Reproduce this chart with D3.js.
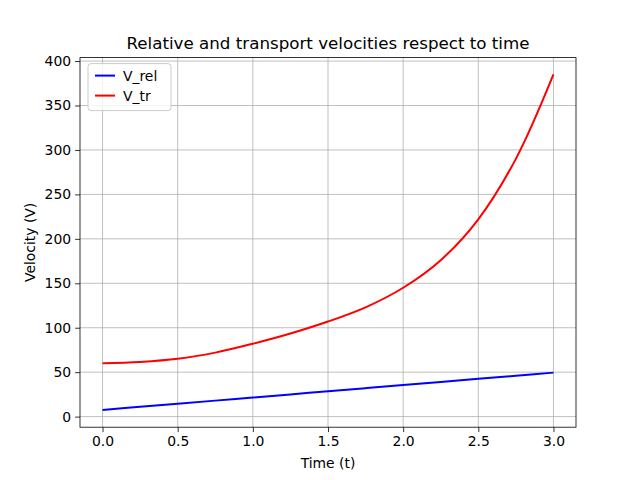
<!DOCTYPE html>
<html>
<head>
<meta charset="utf-8">
<script src="https://cdn.jsdelivr.net/npm/d3@7"></script>
<style>
  body { margin: 0; background: #fff; }
  text { font-family: "DejaVu Sans", sans-serif; }
</style>
</head>
<body>
<div id="chart"></div>
<script>
// data
const times = [0, 0.25, 0.5, 0.75, 1.0, 1.25, 1.5, 1.75, 2.0, 2.25, 2.5, 2.75, 3.0];
const vRel = [7.5, 11, 14.5, 18, 21.5, 25, 28.5, 32, 35.5, 39, 42.5, 46, 49.5];
const vTr = [60, 61.5, 65, 72, 82, 93.5, 107, 123, 145, 176, 222, 290, 385];
const xTicks = [0, 0.5, 1.0, 1.5, 2.0, 2.5, 3.0];
const yTicks = [0, 50, 100, 150, 200, 250, 300, 350, 400];

const width = 640, height = 480;
const margin = { top: 57.6, right: 64, bottom: 52.8, left: 80 };
const iw = width - margin.left - margin.right;
const ih = height - margin.top - margin.bottom;

const svg = d3.select("#chart").append("svg")
  .attr("width", width)
  .attr("height", height);

const g = svg.append("g").attr("transform", `translate(${margin.left},${margin.top})`);

const x = d3.scaleLinear().domain([-0.15, 3.15]).range([0, iw]);
const y = d3.scaleLinear().domain([-11.9, 403.9]).range([ih, 0]);

// grid
g.selectAll(".gx").data(xTicks).enter().append("line")
  .attr("x1", d => x(d)).attr("x2", d => x(d))
  .attr("y1", 0).attr("y2", ih)
  .attr("stroke", "#b0b0b0").attr("stroke-width", 0.8);
g.selectAll(".gy").data(yTicks).enter().append("line")
  .attr("y1", d => y(d)).attr("y2", d => y(d))
  .attr("x1", 0).attr("x2", iw)
  .attr("stroke", "#b0b0b0").attr("stroke-width", 0.8);

// axes
const xAxis = g.append("g").attr("transform", `translate(0,${ih})`)
  .call(d3.axisBottom(x).tickValues(xTicks).tickFormat(d3.format(".1f")).tickSize(4.9).tickPadding(4));
const yAxis = g.append("g")
  .call(d3.axisLeft(y).tickValues(yTicks).tickSize(4.9).tickPadding(4));
[xAxis, yAxis].forEach(a => {
  a.select(".domain").remove();
  a.selectAll("text").attr("font-size", 13.9).attr("fill", "#000")
    .style("font-family", "DejaVu Sans, sans-serif");
  a.selectAll("line").attr("stroke", "#000").attr("stroke-width", 0.8);
});

g.append("rect").attr("width", iw).attr("height", ih)
  .attr("fill", "none").attr("stroke", "#000").attr("stroke-width", 0.8);

const line = d3.line().x((d, i) => x(times[i])).y(d => y(d)).curve(d3.curveCatmullRom);

g.append("path").datum(vRel).attr("d", line)
  .attr("fill", "none").attr("stroke", "#0000ff").attr("stroke-width", 2);
g.append("path").datum(vTr).attr("d", line)
  .attr("fill", "none").attr("stroke", "#ff0000").attr("stroke-width", 2);

// labels
svg.append("text").attr("x", margin.left + iw / 2).attr("y", 49)
  .attr("text-anchor", "middle").attr("font-size", 16.7)
  .text("Relative and transport velocities respect to time");
svg.append("text").attr("x", margin.left + iw / 2).attr("y", 468)
  .attr("text-anchor", "middle").attr("font-size", 13.9).text("Time (t)");
svg.append("text").attr("transform", `translate(35,${margin.top + ih / 2}) rotate(-90)`)
  .attr("text-anchor", "middle").attr("font-size", 13.9).text("Velocity (V)");

// legend
const legend = g.append("g").attr("transform", "translate(8,6)");
legend.append("rect").attr("width", 83).attr("height", 47).attr("rx", 3)
  .attr("fill", "#fff").attr("fill-opacity", 0.8).attr("stroke", "#cccccc");
const series = [["V_rel", "#0000ff"], ["V_tr", "#ff0000"]];
series.forEach((s, i) => {
  legend.append("line").attr("x1", 7).attr("x2", 27)
    .attr("y1", 12 + i * 20).attr("y2", 12 + i * 20)
    .attr("stroke", s[1]).attr("stroke-width", 2);
  legend.append("text").attr("x", 35).attr("y", 17 + i * 20)
    .attr("font-size", 13.9).text(s[0]);
});
</script>
</body>
</html>
